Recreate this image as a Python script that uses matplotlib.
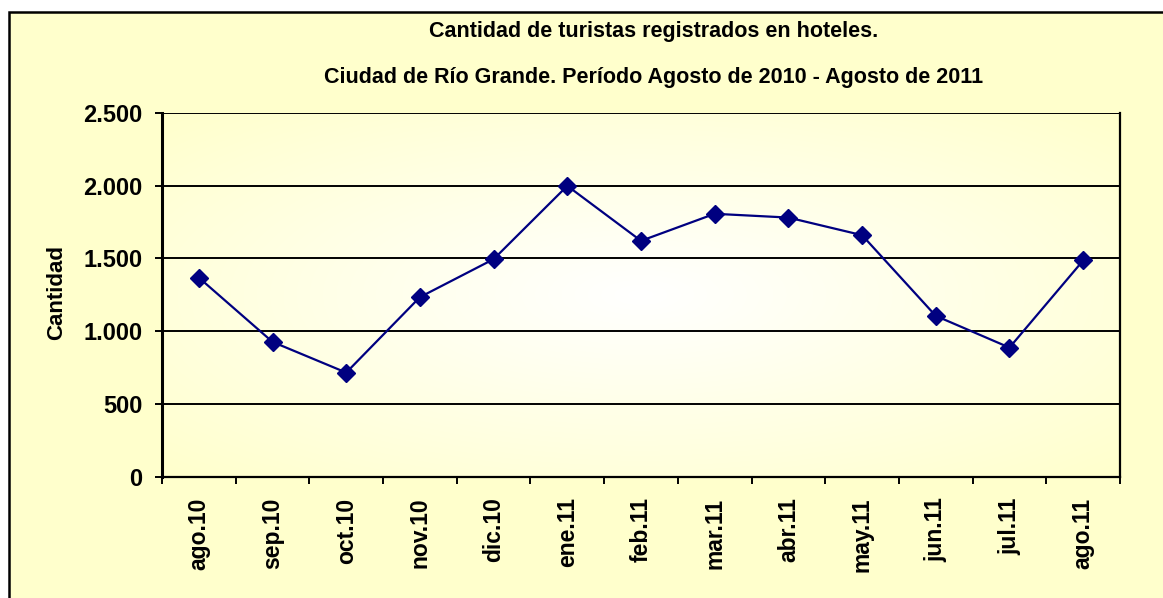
import numpy as np
import matplotlib
matplotlib.use("Agg")
import matplotlib.pyplot as plt
from matplotlib.patches import Rectangle
from matplotlib.ticker import FuncFormatter, FixedLocator

plt.rcParams['font.family'] = ['Liberation Sans', 'DejaVu Sans']

categories = ["ago.10", "sep.10", "oct.10", "nov.10", "dic.10", "ene.11", "feb.11",
              "mar.11", "abr.11", "may.11", "jun.11", "jul.11", "ago.11"]
values = [1368, 926, 715, 1234, 1495, 1999, 1621, 1807, 1781, 1660, 1105, 887, 1486]
yticks = [0, 500, 1000, 1500, 2000, 2500]
title1 = "Cantidad de turistas registrados en hoteles."
title2 = "Ciudad de Río Grande. Período Agosto de 2010 - Agosto de 2011"
ylabel = "Cantidad"

W, H = 1163, 598
fig = plt.figure(figsize=(W / 100, H / 100), dpi=100, facecolor="white")

# outer chart frame (background axes)
bg = fig.add_axes([0, 0, 1, 1], zorder=0)
bg.set_axis_off()
bg.set_xlim(0, 1)
bg.set_ylim(0, 1)
bg.add_patch(Rectangle((9 / W, -0.2), 1.5, (H - 12) / H + 0.2,
                       facecolor="#FFFFCC", edgecolor="black", linewidth=1.8,
                       clip_on=False))

left, right, top, bottom = 162, 1120, 113, 476.6
ax = fig.add_axes([left / W, (H - bottom) / H, (right - left) / W, (bottom - top) / H],
                  zorder=2)
ax.set_facecolor("none")

n = len(categories)
x = np.arange(n)
ax.set_xlim(-0.5, n - 0.5)
ax.set_ylim(0, 2500)

# radial gradient background
gx, gy = np.meshgrid(np.linspace(-1, 1, 300), np.linspace(-1, 1, 200))
r = np.clip(np.sqrt(gx ** 2 + gy ** 2) / np.sqrt(2), 0, 1)
c0 = np.array([1.0, 1.0, 1.0])
c1 = np.array([1.0, 1.0, 0.80])
img = c0[None, None, :] * (1 - r[..., None]) + c1[None, None, :] * r[..., None]
ax.imshow(img, extent=(-0.5, n - 0.5, 0, 2500), aspect="auto", zorder=0,
          interpolation="bilinear")

for yv in yticks[1:]:
    ax.axhline(yv, color="black", linewidth=1.4, zorder=1)

ax.plot(x, values, color="#000080", linewidth=1.6, marker="D", markersize=9,
        markerfacecolor="#000080", markeredgecolor="#000080", zorder=3)

for s in ["left", "right", "bottom", "top"]:
    ax.spines[s].set_color("black")
ax.spines["left"].set_linewidth(2.2)
ax.spines["right"].set_linewidth(1.6)
ax.spines["bottom"].set_linewidth(1.6)
ax.spines["top"].set_visible(False)

ax.yaxis.set_major_locator(FixedLocator(yticks))
ax.yaxis.set_major_formatter(FuncFormatter(lambda v, p: f"{int(v):,}".replace(",", ".")))
ax.tick_params(axis="y", direction="out", length=5, width=1.4, pad=9,
               labelsize=17, colors="black")
for lab in ax.get_yticklabels():
    lab.set_fontweight("bold")

ax.set_xticks(x)
ax.set_xticklabels(categories, rotation=90, fontsize=16.5, fontweight="bold")
ax.tick_params(axis="x", which="major", length=0, pad=15)
ax.set_xticks(np.arange(-0.5, n, 1.0), minor=True)
ax.tick_params(axis="x", which="minor", direction="out", length=5, width=1.4)

fig.text(654 / W, 1 - 32 / H, title1, ha="center", va="center", fontsize=15.5,
         fontweight="bold", zorder=3)
fig.text(654 / W, 1 - 78 / H, title2, ha="center", va="center", fontsize=15.5,
         fontweight="bold", zorder=3)
fig.text(57 / W, 1 - 293 / H, ylabel, ha="center", va="center", rotation=90,
         fontsize=16, fontweight="bold", zorder=3)

fig.savefig("out.png", dpi=100, facecolor="white")
